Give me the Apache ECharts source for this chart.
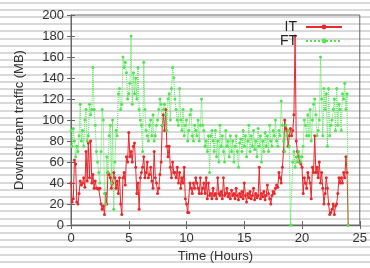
<!DOCTYPE html>
<html>
<head>
<meta charset="utf-8">
<script src="https://cdn.jsdelivr.net/npm/echarts@6/dist/echarts.min.js"></script>
<style>
html, body {
  margin: 0;
  padding: 0;
  width: 370px;
  height: 268px;
  overflow: hidden;
  /* scanned-paper look: thin grey stripes behind everything */
  background: repeating-linear-gradient(to bottom,
    #fff 0px, #fff 1.7px, #d9d9d9 1.7px, #d9d9d9 3.7px, #fff 3.7px, #fff 7.2px);
}
#chart { width: 370px; height: 268px; }
</style>
</head>
<body>
<div id="chart"></div>
<script>
// one sample every 0.1 hour, from 0 to 24
var STEP = 0.1;

var itTraffic = [
  40, 22, 25, 62, 58, 22, 20, 30, 42, 38,
  40, 45, 36, 70, 42, 78, 45, 80, 40, 48,
  35, 42, 35, 35, 34, 35, 20, 15, 18, 10,
  30, 20, 50, 48, 45, 35, 40, 50, 45, 35,
  42, 30, 45, 20, 10, 45, 50, 38, 65, 60,
  88, 65, 70, 60, 75, 78, 55, 30, 40, 15,
  45, 50, 55, 65, 45, 50, 60, 45, 48, 55,
  42, 35, 70, 45, 40, 30, 35, 48, 60, 95,
  105, 90, 110, 75, 65, 75, 55, 45, 60, 50,
  50, 45, 55, 40, 50, 35, 45, 40, 55, 25,
  20, 12, 12, 40, 35, 30, 40, 35, 45, 40,
  35, 30, 45, 30, 35, 40, 30, 45, 25, 40,
  28, 30, 25, 35, 28, 30, 25, 45, 30, 28,
  32, 25, 45, 28, 30, 35, 27, 30, 25, 33,
  28, 30, 25, 35, 28, 24, 30, 27, 32, 25,
  40, 28, 22, 30, 26, 32, 25, 28, 35, 24,
  30, 26, 28, 55, 25, 30, 27, 32, 24, 28,
  38, 30, 25, 20, 28, 32, 30, 35, 38, 36,
  50, 45, 40, 55, 70, 100, 92, 90, 75, 85,
  92, 85, 90, 105, 180, 80, 70, 65, 60, 58,
  55, 30, 45, 40, 35, 50, 45, 40, 25, 55,
  50, 85, 50, 55, 45, 60, 40, 50, 35, 20,
  30, 45, 35, 20, 10, 12, 15, 20, 10, 18,
  20, 30, 45, 40, 45, 40, 50, 45, 65, 50,
  0
];

var ftTraffic = [
  90, 75, 92, 80, 65, 75, 70, 85, 115, 80,
  90, 75, 100, 110, 80, 85, 115, 105, 110, 150,
  110, 95, 70, 60, 50, 40, 70, 110, 100, 30,
  20, 65, 50, 85, 95, 40, 100, 15, 60, 90,
  85, 125, 130, 110, 115, 160, 150, 155, 145, 120,
  125, 135, 180, 115, 145, 125, 140, 120, 150, 110,
  100, 95, 70, 155, 110, 90, 85, 80, 95, 100,
  85, 105, 80, 85, 95, 100, 110, 120, 115, 95,
  110, 115, 105, 90, 120, 125, 100, 130, 150, 140,
  120, 110, 100, 95, 130, 100, 90, 110, 85, 95,
  100, 80, 90, 105, 110, 85, 80, 95, 90, 85,
  100, 80, 95, 120, 95, 90, 75, 80, 70, 85,
  50, 85, 90, 80, 70, 90, 65, 80, 60, 95,
  75, 85, 70, 60, 90, 75, 80, 65, 85, 70,
  80, 60, 75, 85, 70, 55, 78, 82, 70, 90,
  75, 85, 65, 80, 95, 70, 85, 75, 90, 72,
  80, 65, 92, 75, 85, 60, 80, 70, 88, 75,
  85, 70, 95, 80, 75, 90, 85, 100, 80, 75,
  90, 85, 118, 95, 80, 70, 95, 85, 90, 75,
  0, 0, 60, 70, 55, 65, 60, 70, 65, 60,
  65, 75, 100, 95, 85, 105, 85, 110, 80, 100,
  115, 120, 105, 85, 90, 100, 160, 120, 85, 130,
  110, 125, 75, 130, 85, 95, 100, 110, 120, 90,
  130, 95, 115, 110, 90, 125, 120, 135, 110, 125,
  0
];

var xTicks = { min: 0, max: 25, interval: 5 };
var yTicks = { min: 0, max: 200, interval: 20 };

function toPairs(arr) {
  return arr.map(function (v, i) { return [+(i * STEP).toFixed(1), v]; });
}

var chart = echarts.init(document.getElementById("chart"));

var frameColor = "#666";
var labelStyle = { color: "#333", fontSize: 13, fontFamily: "Liberation Sans, Arial, sans-serif" };

chart.setOption({
  animation: false,
  grid: {
    left: 71, right: 8, top: 15, bottom: 39,
    show: true,
    borderColor: frameColor,
    borderWidth: 1,
    backgroundColor: "transparent"
  },
  legend: {
    orient: "vertical",
    align: "right",
    right: 22,
    top: 15,
    itemWidth: 36,
    itemHeight: 6,
    itemGap: 0,
    textStyle: { color: "#222", fontSize: 14, fontFamily: "Liberation Sans, Arial, sans-serif", padding: [0, 4, 0, 0], lineHeight: 12 },
    data: ["IT", "FT"]
  },
  xAxis: [{
    type: "value",
    min: xTicks.min, max: xTicks.max, interval: xTicks.interval,
    name: "Time (Hours)",
    nameLocation: "middle",
    nameGap: 25,
    nameTextStyle: labelStyle,
    axisLine: { show: true, lineStyle: { color: frameColor } },
    axisTick: { inside: true, length: 4, lineStyle: { color: frameColor } },
    axisLabel: Object.assign({ margin: 7 }, labelStyle),
    splitLine: { show: false }
  }, {
    type: "value",
    position: "top",
    min: xTicks.min, max: xTicks.max, interval: xTicks.interval,
    axisLine: { show: true, lineStyle: { color: frameColor } },
    axisTick: { inside: true, length: 4, lineStyle: { color: frameColor } },
    axisLabel: { show: false },
    splitLine: { show: false }
  }],
  yAxis: [{
    type: "value",
    min: yTicks.min, max: yTicks.max, interval: yTicks.interval,
    name: "Downstream traffic (MB)",
    nameLocation: "middle",
    nameGap: 45,
    nameTextStyle: labelStyle,
    axisLine: { show: true, lineStyle: { color: frameColor } },
    axisTick: { inside: true, length: 4, lineStyle: { color: frameColor } },
    axisLabel: Object.assign({ margin: 7 }, labelStyle),
    splitLine: { show: false }
  }, {
    type: "value",
    position: "right",
    min: yTicks.min, max: yTicks.max, interval: yTicks.interval,
    axisLine: { show: true, lineStyle: { color: frameColor } },
    axisTick: { inside: true, length: 4, lineStyle: { color: frameColor } },
    axisLabel: { show: false },
    splitLine: { show: false }
  }],
  series: [{
    name: "IT",
    type: "line",
    symbol: "circle",
    symbolSize: 3,
    showAllSymbol: true,
    color: "#e8282c",
    lineStyle: { width: 1, color: "#e8282c" },
    itemStyle: { color: "#e8282c" },
    data: toPairs(itTraffic)
  }, {
    name: "FT",
    type: "line",
    symbol: "circle",
    symbolSize: 3,
    showAllSymbol: true,
    color: "#4ce84c",
    lineStyle: { width: 1, type: "dotted", color: "#4ce84c" },
    itemStyle: { color: "#4ce84c" },
    data: toPairs(ftTraffic)
  }]
});
</script>
</body>
</html>
